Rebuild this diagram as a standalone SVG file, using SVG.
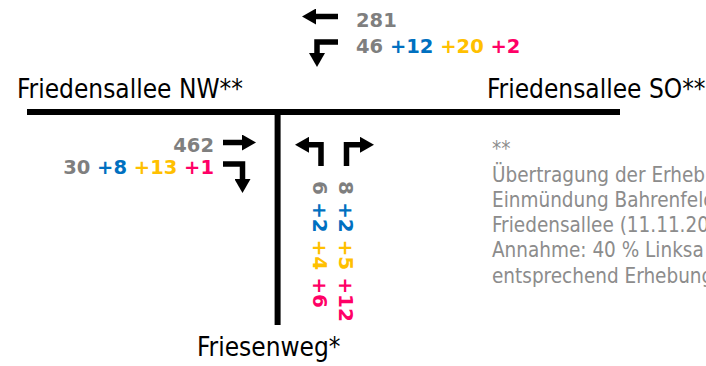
<svg xmlns="http://www.w3.org/2000/svg" width="706" height="366" viewBox="0 0 706 366">
  <style>
    .road { stroke: #000; stroke-width: 6; fill: none; }
    .arrow { stroke: #000; stroke-width: 5.5; fill: none; stroke-linejoin: miter; marker-end: url(#head); }
    .label { font-family: "DejaVu Sans Condensed", "DejaVu Sans", sans-serif; font-stretch: condensed; font-size: 26px; fill: #000; }
    .note { font-family: "DejaVu Sans Condensed", "DejaVu Sans", sans-serif; font-stretch: condensed; font-size: 20.5px; fill: #8c8c8c; }
    .num { font-family: "DejaVu Sans", Verdana, sans-serif; font-weight: bold; font-size: 19.5px; fill: #7f7f7f; }
    .numv { font-family: "DejaVu Sans", Verdana, sans-serif; font-weight: bold; font-size: 20px; fill: #7f7f7f; }
    .b { fill: #0070c0; }
    .y { fill: #ffc000; }
    .m { fill: #ff0066; }
  </style>
  <defs>
    <marker id="head" viewBox="0 0 14 16" refX="0" refY="8" markerWidth="14" markerHeight="16" markerUnits="userSpaceOnUse" orient="auto">
      <path d="M0,0 L14,8 L0,16 Z" fill="#000"/>
    </marker>
  </defs>

  <!-- street axes -->
  <g id="roads">
    <line class="road" x1="27" y1="112" x2="620" y2="112"/>
    <line class="road" x1="277.6" y1="112" x2="277.6" y2="325"/>
  </g>

  <!-- turning movement arrows -->
  <g id="connectors">
    <path class="arrow" d="M338,16.5 H316"/>
    <path class="arrow" d="M338,42 H317 V53"/>
    <path class="arrow" d="M223,142.5 H242"/>
    <path class="arrow" d="M223,164 H242.5 V179"/>
    <path class="arrow" d="M321,166 V144.8 H309"/>
    <path class="arrow" d="M346.5,166 V144.8 H360"/>
  </g>

  <g id="street-nw">
    <text class="label" x="17" y="98">Friedensallee NW**</text>
  </g>
  <g id="street-so">
    <text class="label" x="487" y="98">Friedensallee SO**</text>
  </g>
  <g id="street-friesenweg">
    <text class="label" x="197" y="356">Friesenweg*</text>
  </g>

  <g id="volumes-so">
    <text class="num" x="356" y="26.5">281</text>
    <text class="num" x="356" y="53">46 <tspan class="b">+12</tspan> <tspan class="y">+20</tspan> <tspan class="m">+2</tspan></text>
  </g>
  <g id="volumes-nw">
    <text class="num" x="214" y="151.5" text-anchor="end">462</text>
    <text class="num" x="214" y="174" text-anchor="end">30 <tspan class="b">+8</tspan> <tspan class="y">+13</tspan> <tspan class="m">+1</tspan></text>
  </g>
  <g id="volumes-friesenweg">
    <text class="numv" transform="translate(313,181) rotate(90)">6 <tspan class="b">+2</tspan> <tspan class="y">+4</tspan> <tspan class="m">+6</tspan></text>
    <text class="numv" transform="translate(339,181) rotate(90)">8 <tspan class="b">+2</tspan> <tspan class="y">+5</tspan> <tspan class="m">+12</tspan></text>
  </g>

  <g id="footnote">
    <text class="note" x="492" y="156">**</text>
    <text class="note" x="492" y="181.5">Übertragung der Erheb</text>
    <text class="note" x="492" y="206.7">Einmündung Bahrenfeld</text>
    <text class="note" x="492" y="232">Friedensallee (11.11.20</text>
    <text class="note" x="492" y="257">Annahme: 40 % Linksa</text>
    <text class="note" x="492" y="282.5">entsprechend Erhebung</text>
  </g>
</svg>
